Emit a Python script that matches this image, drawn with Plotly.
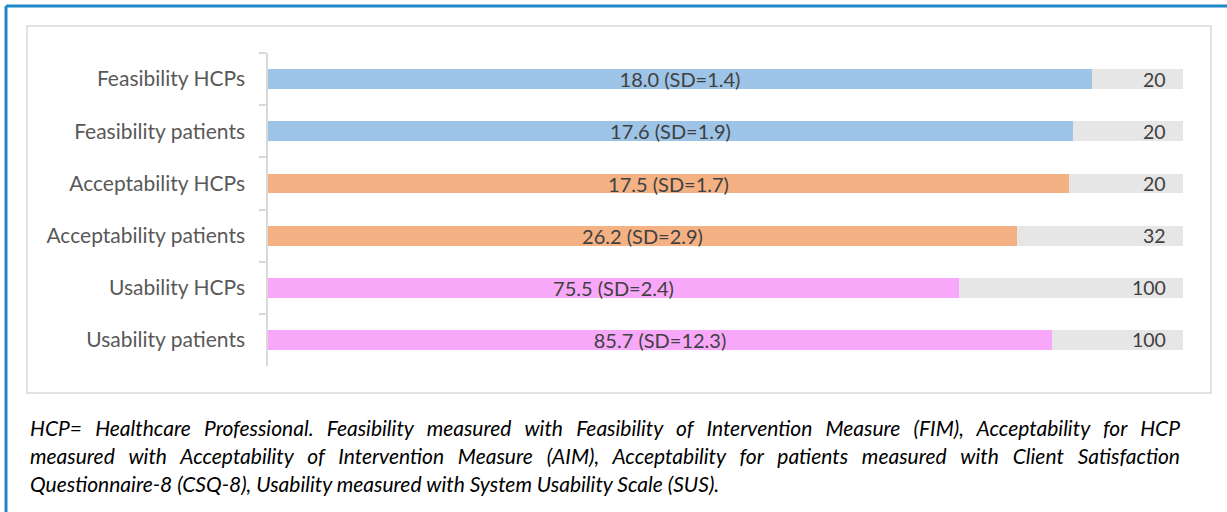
import json
import plotly.graph_objects as go

categories = ["Feasibility HCPs", "Feasibility patients", "Acceptability HCPs",
              "Acceptability patients", "Usability HCPs", "Usability patients"]
means = [18.0, 17.6, 17.5, 26.2, 75.5, 85.7]
sds = [1.4, 1.9, 1.7, 2.9, 2.4, 12.3]
max_scores = [20, 20, 20, 32, 100, 100]
bar_colors = ["#9DC3E6", "#9DC3E6", "#F4B183", "#F4B183", "#F8A8F8", "#F8A8F8"]

caption_lines = [
    "HCP= Healthcare Professional. Feasibility measured with Feasibility of Intervention Measure (FIM), Acceptability for HCP",
    "measured with Acceptability of Intervention Measure (AIM), Acceptability for patients measured with Client Satisfaction",
    "Questionnaire-8 (CSQ-8), Usability measured with System Usability Scale (SUS).",
]

W, H = 1227, 512
FONT = "Lato"
TEXT = "#404040"

share = [m / mx for m, mx in zip(means, max_scores)]
labels = [f"{m:.1f} (SD={s:.1f})" for m, s in zip(means, sds)]

fig = go.Figure()
# full-scale background bars
fig.add_trace(go.Bar(
    y=categories, x=[1] * len(categories), orientation="h",
    marker=dict(color="#E7E6E6", line=dict(width=0)),
    width=0.38, hoverinfo="skip", showlegend=False,
))
# observed mean as a share of the maximum score
fig.add_trace(go.Bar(
    y=categories, x=share, orientation="h",
    marker=dict(color=bar_colors, line=dict(width=0)),
    width=0.38, text=labels, textposition="inside", insidetextanchor="middle",
    constraintext="none",
    textfont=dict(family=FONT, size=20, color=TEXT),
    showlegend=False,
))

# maximum score printed at the right end of each background bar
for cat, mx in zip(categories, max_scores):
    fig.add_annotation(x=1, y=cat, xref="x", yref="y", text=str(mx),
                       xanchor="right", xshift=-15, showarrow=False,
                       font=dict(family=FONT, size=19.5, color=TEXT))

def px(x):
    return x / W

def py(y):
    return 1 - y / H

shapes = [
    # chart frame
    dict(type="rect", xref="paper", yref="paper", x0=px(27), x1=px(1211), y0=py(393), y1=py(26),
         line=dict(color="#D9D9D9", width=1.5), layer="below"),
    # outer blue border (top and left)
    dict(type="line", xref="paper", yref="paper", x0=px(6), x1=1.0, y0=py(6), y1=py(6),
         line=dict(color="#1E88C7", width=3)),
    dict(type="line", xref="paper", yref="paper", x0=px(6), x1=px(6), y0=py(6), y1=0,
         line=dict(color="#1E88C7", width=3)),
]

for i, line in enumerate(caption_lines):
    fig.add_annotation(x=px(28), y=py(427 + 28 * i), xref="paper", yref="paper",
                       text=f"<i>{line}</i>", xanchor="left", yanchor="middle",
                       showarrow=False, font=dict(family=FONT, size=21, color="#000000"))

fig.update_layout(
    width=W, height=H, margin=dict(l=0, r=0, t=0, b=0),
    paper_bgcolor="white", plot_bgcolor="white",
    barmode="overlay", bargap=0, shapes=shapes,
    xaxis=dict(domain=[px(268), px(1183)], range=[0, 1], visible=False, fixedrange=True),
    yaxis=dict(domain=[py(366), py(53)], type="category", categoryorder="array",
               categoryarray=categories, autorange="reversed",
               showline=True, linecolor="#D9D9D9", linewidth=1.5,
               ticks="outside", tickson="boundaries", ticklen=7, tickcolor="#D9D9D9",
               tickwidth=1.5, ticklabelstandoff=17, showgrid=False,
               tickfont=dict(family=FONT, size=21, color="#595959")),
    font=dict(family=FONT),
)

# justify every caption line except the last across the caption width,
# keeping its left edge where plotly placed it
justify_js = """
var gd = document.getElementById('{plot_id}');
var lines = %s;
var target = %d;
gd.querySelectorAll('.annotation-text').forEach(function (t) {
  if (lines.indexOf(t.textContent) < 0) return;
  var bb = t.getBBox();
  var spaces = (t.textContent.match(/ /g) || []).length;
  var len = t.getComputedTextLength();
  t.setAttribute('text-anchor', 'start');
  t.setAttribute('x', bb.x);
  t.querySelectorAll('tspan').forEach(function (s) {
    if (s.hasAttribute('x')) s.setAttribute('x', bb.x);
  });
  if (spaces > 0 && len < target) {
    t.style.wordSpacing = ((target - len) / spaces) + 'px';
  }
});
""" % (json.dumps(caption_lines[:-1]), 1178 - 28)

fig.write_html("out.html", post_script=justify_js)
